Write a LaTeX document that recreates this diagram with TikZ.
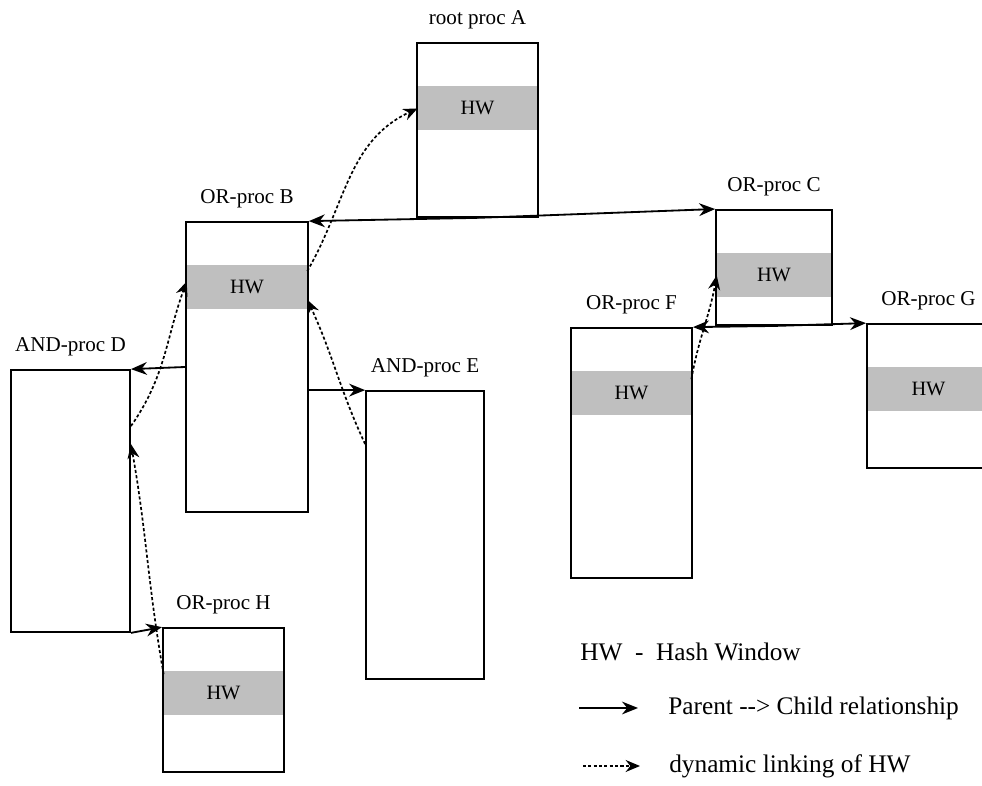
\documentclass[tikz,border=0pt]{standalone}
\usepackage{fontspec}
\setmainfont{Liberation Serif}
\usetikzlibrary{arrows.meta, positioning, calc}

\begin{document}
\begin{tikzpicture}[x=0.025cm, y=-0.025cm,
    proc/.style={draw, line width=1.2pt, inner sep=0pt},
    hw/.style={fill=black!25, inner sep=0pt, minimum height=1.1cm, font=\fontsize{14.5}{16}\selectfont},
    tag/.style={font=\fontsize{15}{18}\selectfont},
    key/.style={font=\fontsize{18}{22}\selectfont, inner sep=0pt, anchor=west},
    child/.style={-{Stealth[length=4mm, width=3.2mm, inset=1.3mm]}, line width=1.3pt},
    link/.style={-{Stealth[length=3.6mm, width=3mm, inset=1.2mm]}, line width=1.2pt, dash pattern=on 2.2pt off 1.6pt}]
  \clip (0,0) rectangle (982,786);
  \node[proc, minimum width=3.03cm, minimum height=4.35cm] (a) at (477.5,130) {};
  \node[proc, minimum width=3.05cm, minimum height=7.25cm] (b) at (247,367) {};
  \node[proc, minimum width=2.9cm, minimum height=2.88cm] (c) at (774,267.5) {};
  \node[proc, minimum width=2.98cm, minimum height=6.55cm] (d) at (70.5,501) {};
  \node[proc, minimum width=2.95cm, minimum height=7.2cm] (e) at (425,535) {};
  \node[proc, minimum width=3.03cm, minimum height=6.25cm] (f) at (631.5,453) {};
  \node[proc, minimum width=3.08cm, minimum height=3.6cm] (g) at (928.5,396) {};
  \node[proc, minimum width=3.03cm, minimum height=3.6cm] (h) at (223.5,700) {};

  \node[hw, minimum width=2.98cm, below=1.1cm of a.north] (ahw) {HW};
  \node[hw, minimum width=3cm, below=1.1cm of b.north] (bhw) {HW};
  \node[hw, minimum width=2.85cm, below=1.1cm of c.north] (chw) {HW};
  \node[hw, minimum width=2.98cm, below=1.1cm of f.north] (fhw) {HW};
  \node[hw, minimum width=3.03cm, below=1.1cm of g.north] (ghw) {HW};
  \node[hw, minimum width=2.98cm, below=1.1cm of h.north] (hhw) {HW};

  \node[tag, above=0.2cm of a] (atag) {root proc A};
  \node[tag, above=0.2cm of b] (btag) {OR-proc B};
  \node[tag, above=0.2cm of c] (ctag) {OR-proc C};
  \node[tag, above=0.2cm of d] (dtag) {AND-proc D};
  \node[tag, above=0.2cm of e] (etag) {AND-proc E};
  \node[tag, above=0.2cm of f] (ftag) {OR-proc F};
  \node[tag, above=0.2cm of g] (gtag) {OR-proc G};
  \node[tag, above=0.2cm of h] (htag) {OR-proc H};

  \draw[child] (a.south) -- (b.north east);
  \draw[child] (a.south) -- (c.north west);
  \draw[child] (c.south) -- (f.north east);
  \draw[child] (c.south) -- (g.north west);
  \draw[child] (b.west) -- (d.north east);
  \draw[child] (b.east |- e.north west) -- (e.north west);
  \draw[child] (d.south east) -- (h.north west);

  \draw[link] ($(bhw.north east)+(0,6)$) to[out=60, in=205] (ahw.west);
  \draw[link] ($(d.north east)+(0,57)$) to[out=55, in=250] ($(bhw.west)+(0,-6)$);
  \draw[link] ($(hhw.north west)+(0,3)$) to[out=100, in=-80] ($(d.north east)+(0,75)$);
  \draw[link] ($(e.north west)+(0,54)$) to[out=115, in=-65] ($(bhw.south east)+(0,-10)$);
  \draw[link] ($(fhw.north east)+(0,8)$) to[out=80, in=-100] (chw.west);

  \node[key] (hwkey) at (580,652) {HW~~-~~Hash Window};
  \coordinate (k1a) at (579,708);
  \coordinate (k1b) at (638,708);
  \draw[child] (k1a) -- (k1b);
  \node[key] (k1txt) at (668,708) {Parent -{}-> Child relationship};
  \coordinate (k2a) at (583,766);
  \coordinate (k2b) at (640,766);
  \draw[link] (k2a) -- (k2b);
  \node[key] (k2txt) at (669,766) {dynamic linking of HW};
\end{tikzpicture}
\end{document}
